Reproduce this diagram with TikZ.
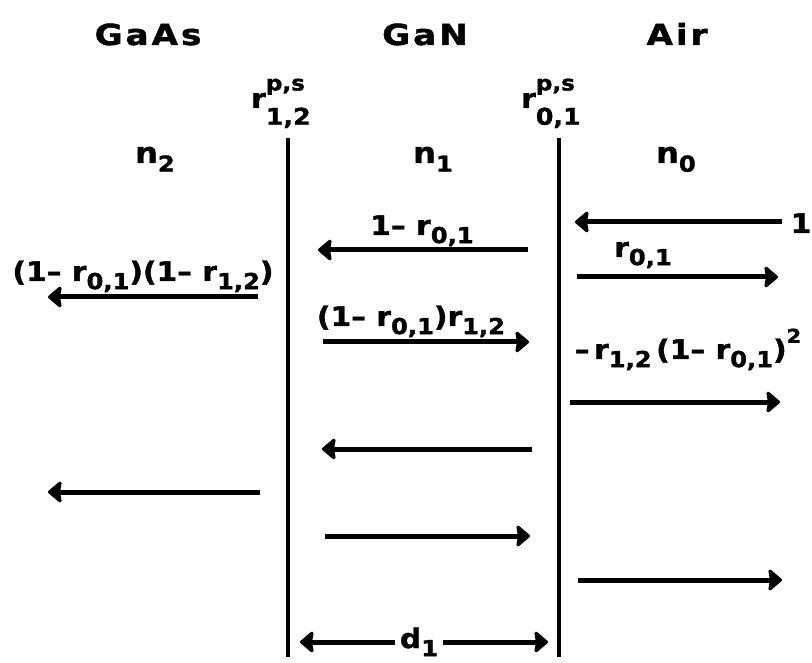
\documentclass[tikz,border=0pt]{standalone}
\usepackage{fontspec}
\setmainfont{DejaVu Sans}[FakeStretch=1.1, BoldFeatures={FakeBold=1.5}]
\newfontfamily\headfont{DejaVu Sans}[FakeStretch=1.18,LetterSpace=10, BoldFeatures={FakeBold=1.5}]
\usetikzlibrary{arrows.meta}
\newcommand{\sbx}[1]{\raisebox{-0.3em}{\fontsize{22}{22}\selectfont #1}}
\newcommand{\spx}[1]{\raisebox{0.6em}{\fontsize{19}{19}\selectfont #1}}
\newcommand{\rps}[1]{r\makebox[0pt][l]{\raisebox{0.65em}{\fontsize{21}{21}\selectfont p,s}}\raisebox{-0.62em}{\fontsize{23}{23}\selectfont #1}}
\begin{document}
\begin{tikzpicture}[x=1pt,y=-1pt,
  lab/.style={font=\fontsize{27}{30}\selectfont\bfseries, inner sep=0pt, anchor=base},
  nlab/.style={font=\fontsize{29}{32}\selectfont\bfseries, inner sep=0pt, anchor=base},
  head/.style={font=\fontsize{29}{32}\selectfont\headfont\bfseries, inner sep=0pt, anchor=base},
  ray/.style={line width=5pt, -{Stealth[length=15pt,width=25pt,inset=2pt,round]}},
  wall/.style={line width=3.5pt}]
\useasboundingbox (0,0) rectangle (812,663);
% headings
\node[head] (gaas) at (148,45) {GaAs};
\node[head] (gan) at (425,45) {GaN};
\node[head] (air) at (677,45) {Air};
\node[lab, anchor=base west] (r12) at (251,108) {\rps{1,2}};
\node[lab, anchor=base west] (r01) at (521,108) {\rps{0,1}};
\node[nlab] (n2) at (155,163) {n\sbx{2}};
\node[nlab] (n1) at (433,163) {n\sbx{1}};
\node[nlab] (n0) at (676,163) {n\sbx{0}};
% walls
\coordinate (w1t) at (288,138); \coordinate (w1b) at (288,657);
\coordinate (w0t) at (559,138); \coordinate (w0b) at (559,657);
\draw[wall] (w1t) -- (w1b);
\draw[wall] (w0t) -- (w0b);
% labels
\node[lab] (l1) at (801,233) {1};
\node[lab] (lt) at (422,235) {1\textendash{} r\sbx{0,1}};
\node[lab] (lr) at (643,257) {r\sbx{0,1}};
\node[lab] (ltt) at (143,281) {(1\textendash{} r\sbx{0,1})(1\textendash{} r\sbx{1,2})};
\node[lab] (ltr) at (411,326) {(1\textendash{} r\sbx{0,1})r\sbx{1,2}};
\node[lab] (lrr) at (688,359) {\textendash\,r\sbx{1,2}\,(1\textendash{} r\sbx{0,1})\spx{2}};
\node[lab] (d1) at (419,648) {d\sbx{1}};
% arrow ends
\coordinate (a1s) at (782,222); \coordinate (a1e) at (575,222);
\coordinate (a2s) at (577,277); \coordinate (a2e) at (778,277);
\coordinate (a3s) at (528,250); \coordinate (a3e) at (318,250);
\coordinate (a4s) at (258,297); \coordinate (a4e) at (48,297);
\coordinate (a5s) at (323,342); \coordinate (a5e) at (529,342);
\coordinate (a6s) at (570,402); \coordinate (a6e) at (780,402);
\coordinate (a7s) at (532,449); \coordinate (a7e) at (322,449);
\coordinate (a8s) at (260,492); \coordinate (a8e) at (48,492);
\coordinate (a9s) at (325,536); \coordinate (a9e) at (530,536);
\coordinate (a10s) at (578,580); \coordinate (a10e) at (782,580);
\coordinate (dls) at (395,642); \coordinate (dle) at (300,642);
\coordinate (drs) at (443,642); \coordinate (dre) at (548,642);
\foreach \a in {a1,a2,a3,a4,a5,a6,a7,a8,a9,a10,dl,dr}
  \draw[ray] (\a s) -- (\a e);
\end{tikzpicture}
\end{document}
